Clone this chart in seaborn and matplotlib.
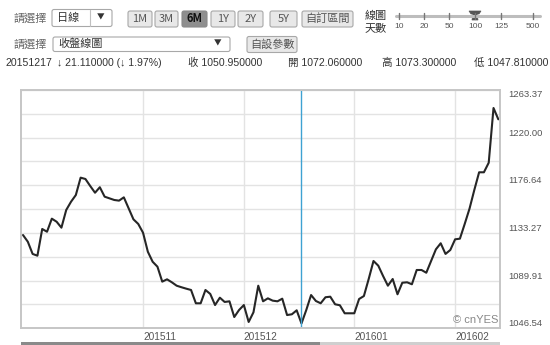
import matplotlib
matplotlib.use('Agg')
import matplotlib.pyplot as plt
import seaborn as sns
import pandas as pd
from matplotlib.patches import FancyBboxPatch, Rectangle, Polygon
from matplotlib.lines import Line2D
from matplotlib.transforms import Affine2D

# ---------------- data ----------------
close_values = [
    1131.4, 1125.3, 1114.2, 1112.6, 1136.9, 1134.4, 1146.3, 1143.5, 1138.1, 1154.2,
    1161.7, 1167.8, 1183.6, 1182.4, 1176.0, 1169.9, 1174.9, 1166.3, 1164.8, 1163.3,
    1162.7, 1165.7, 1155.7, 1145.7, 1141.5, 1133.5, 1116.2, 1107.1, 1102.6, 1089.0,
    1091.1, 1088.4, 1085.3, 1083.9, 1082.6, 1081.4, 1069.3, 1069.3, 1081.4, 1077.8,
    1067.7, 1074.4, 1070.5, 1071.1, 1056.8, 1063.2, 1067.7, 1052.3, 1061.1, 1085.3,
    1071.1, 1073.8, 1071.7, 1071.1, 1073.5, 1058.6, 1059.3, 1062.9, 1050.95, 1063.2,
    1076.8, 1071.4, 1069.3, 1074.8, 1075.3, 1068.4, 1067.5, 1060.2, 1060.2, 1060.2,
    1073.2, 1075.9, 1091.4, 1107.8, 1103.5, 1094.1, 1085.3, 1091.4, 1077.5, 1088.0,
    1088.4, 1086.6, 1099.6, 1099.6, 1097.1, 1107.8, 1118.4, 1123.9, 1114.2, 1117.8,
    1127.5, 1128.1, 1141.5, 1155.4, 1172.4, 1188.5, 1188.5, 1197.2, 1247.0, 1236.7,
]
month_labels = ['201511', '201512', '201601', '201602']
month_index = [25, 46, 69, 90]           # trading-day index of first day of month
cursor_index = 58                        # 20151217
y_tick_labels = ['1046.54', '1089.91', '1133.27', '1176.64', '1220.00', '1263.37']

range_buttons = ['1M', '3M', '6M', '1Y', '2Y', '5Y', '自訂區間']
selected_button = '6M'
slider_labels = ['10', '20', '50', '100', '125', '500']
selected_slider = '100'
info_date = '20151217'
info_change = '↓ 21.110000 (↓ 1.97%)'
info_fields = ['收 1050.950000', '開 1072.060000', '高 1073.300000', '低 1047.810000']

# ---------------- style ----------------
sns.set_style('white')
plt.rcParams['font.family'] = ['Liberation Sans', 'Noto Sans CJK TC', 'DejaVu Sans']

W, H = 550, 345
fig = plt.figure(figsize=(W / 100, H / 100), dpi=100)
fig.patch.set_facecolor('white')
px = Affine2D().scale(1 / W, -1 / H).translate(0, 1) + fig.transFigure
CJK = ['Noto Sans CJK TC', 'Liberation Sans', 'DejaVu Sans']


def box(x0, y0, x1, y1, fc, ec, lw=0.8, r=2):
    fig.add_artist(FancyBboxPatch((x0, y0), x1 - x0, y1 - y0,
                                  boxstyle=f'round,pad=0,rounding_size={r}',
                                  fc=fc, ec=ec, lw=lw, transform=px))


def txt(x, y, s, size=8, color='#444', ha='left', weight='normal', family=None):
    kw = {}
    if family is not None:
        kw['family'] = family
    fig.text(x, y, s, transform=px, fontsize=size, color=color, ha=ha,
             va='center', fontweight=weight, **kw)


# ---------- row 1 ----------
txt(13, 18, '請選擇', 8, '#666', family=CJK)
box(52, 9.5, 112, 26.5, 'white', '#a8a8a8')
fig.add_artist(Line2D([90, 90], [10, 26], transform=px, color='#c0c0c0', lw=0.8))
txt(57, 18, '日線', 8, '#333', family=CJK)
txt(101, 17.5, '▼', 5.5, '#333', ha='center', family=CJK)

btn_x = [(128, 152), (155, 178), (182, 207), (211, 235), (238, 263), (270, 297), (302, 353)]
for (x0, x1), lab in zip(btn_x, range_buttons):
    sel = lab == selected_button
    box(x0, 11, x1, 27, '#8e8e8e' if sel else '#e8e8e8', '#8a8a8a' if sel else '#a8a8a8')
    txt((x0 + x1) / 2, 19, lab, 8, '#111' if sel else '#555', ha='center',
        weight='bold' if sel else 'normal', family=CJK)

txt(365, 16, '線圖', 8, '#333', family=CJK)
txt(365, 28, '天數', 8, '#333', family=CJK)
slider_x = [399, 424, 449, 475, 501, 533]
fig.add_artist(Line2D([396, 540], [16, 16], transform=px, color='#bdbdbd', lw=2.2))
for sx, lab in zip(slider_x, slider_labels):
    fig.add_artist(Line2D([sx, sx], [13, 19], transform=px, color='#777', lw=1))
    txt(sx, 26.5, lab, 6, '#555', ha='center')
    if lab == selected_slider:
        fig.add_artist(Polygon([[sx - 6, 11], [sx + 6, 11], [sx + 4, 14], [sx + 2, 14],
                                [sx + 3, 20], [sx - 3, 20], [sx - 2, 14], [sx - 4, 14]],
                               closed=True, fc='#555', ec='#555', lw=0.5, transform=px))

# ---------- row 2 ----------
txt(13, 44, '請選擇', 8, '#666', family=CJK)
box(53, 37, 230, 51.5, 'white', '#a8a8a8')
txt(58, 44, '收盤線圖', 8, '#333', family=CJK)
txt(218, 43.5, '▼', 5.5, '#333', ha='center', family=CJK)
box(247, 36.5, 297, 52.5, '#e8e8e8', '#a8a8a8')
txt(272, 44.5, '自設參數', 8, '#555', ha='center', family=CJK)

# ---------- row 3 ----------
txt(5, 63, info_date, 7.6, '#333')
txt(57, 63, info_change, 7.6, '#333')
for x0, s in zip([188, 288, 382, 474], info_fields):
    txt(x0, 63, s, 7.6, '#333')

# ---------------- chart ----------------
left, right, top, bottom = 21, 500, 90, 328.3
ax = fig.add_axes([left / W, (H - bottom) / H, (right - left) / W, (bottom - top) / H])
df = pd.DataFrame({'idx': range(len(close_values)), 'close': close_values})
sns.lineplot(data=df, x='idx', y='close', ax=ax, color='#262626', lw=1.5)

y_min, y_max = float(y_tick_labels[0]), float(y_tick_labels[-1])
ax.set_xlim(-0.42, len(close_values) - 1 + 0.35)
ax.set_ylim(y_min, y_max)
grid_vals = [y_min + k * (y_max - y_min) / 10 for k in range(11)]
grid_labels = []
for k in range(11):
    grid_labels.append(y_tick_labels[k // 2] if k % 2 == 0 else '')
ax.set_yticks(grid_vals)
ax.set_yticklabels(grid_labels)
ax.yaxis.tick_right()
ax.set_xticks(month_index)
ax.set_xticklabels(month_labels)
ax.tick_params(axis='y', length=0, pad=5.8, labelsize=6.8, labelcolor='#555')
ax.tick_params(axis='x', length=0, pad=2.5, labelsize=7.3, labelcolor='#555')
for lbl in ax.get_xticklabels():
    lbl.set_ha('left')
ylbls = ax.get_yticklabels()
for i, lbl in enumerate(ylbls):
    lbl.set_va('top' if i == len(ylbls) - 1 else 'bottom')
ax.set_xlabel('')
ax.set_ylabel('')
ax.grid(True, color='#e3e3e3', lw=1)
ax.set_axisbelow(True)
for sp in ax.spines.values():
    sp.set_color('#c6c6c6')
    sp.set_linewidth(1.4)
ax.axvline(cursor_index, color='#3ea2d2', lw=1.0)
ax.text(0.996, 0.013, '© cnYES', transform=ax.transAxes, ha='right', va='bottom',
        color='#888', fontsize=8)

# bottom scrollbar
fig.add_artist(Rectangle((21, 342), 299, 3, transform=px, fc='#8a8a8a', ec='none'))
fig.add_artist(Rectangle((320, 342), 180, 3, transform=px, fc='#cfcfcf', ec='none'))

fig.savefig('out.png', dpi=100)
